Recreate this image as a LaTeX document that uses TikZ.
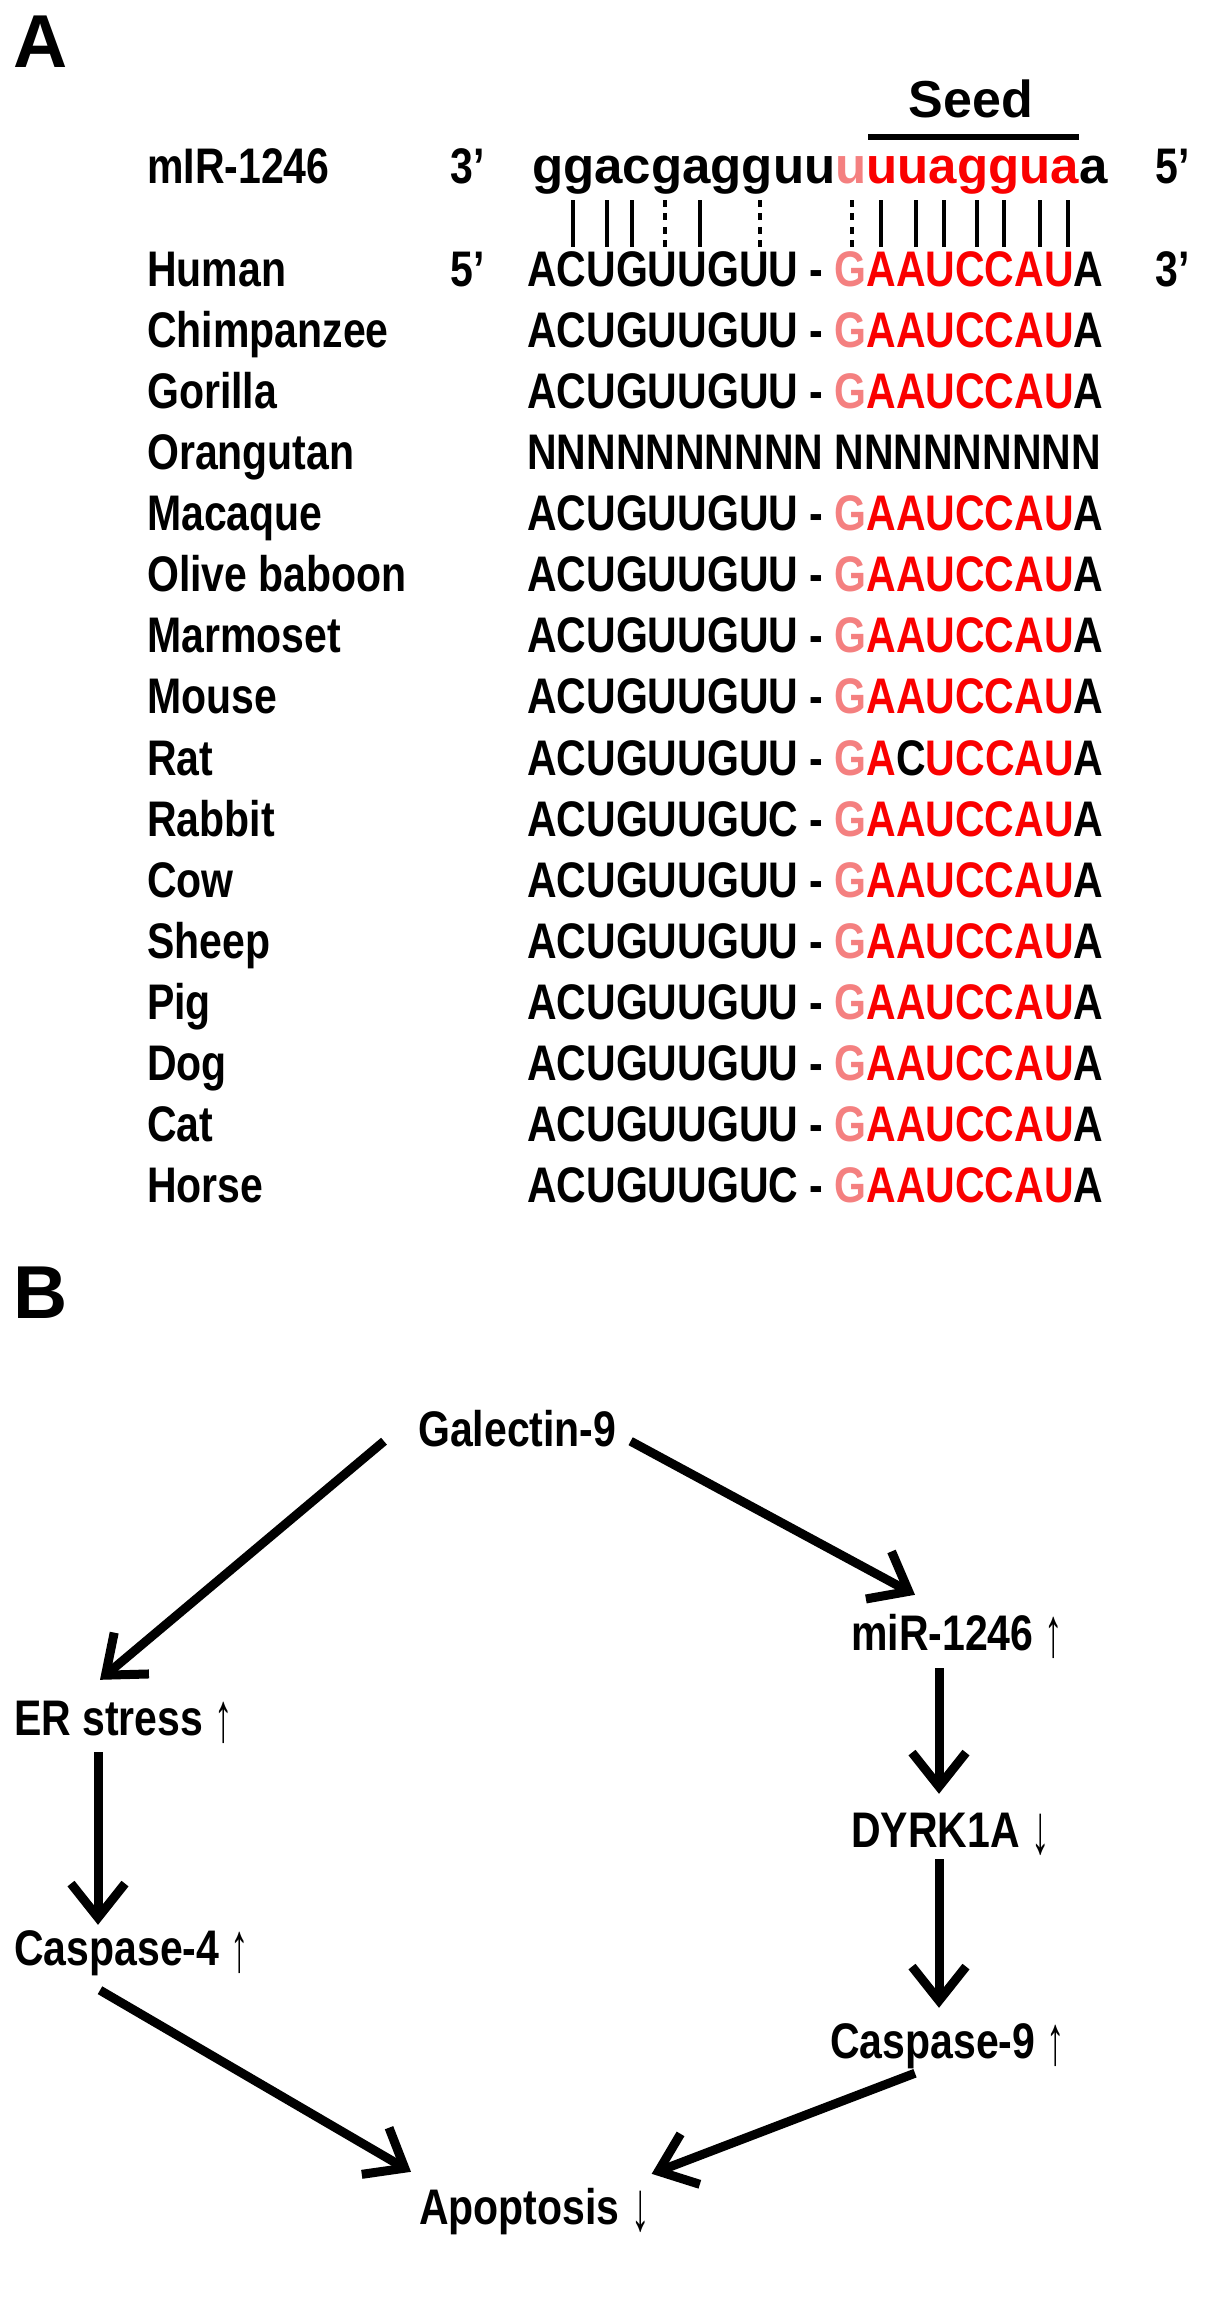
\documentclass[tikz,border=0pt]{standalone}
\usepackage{fontspec}
\usepackage{graphicx}
\usepackage{tikz}
\usetikzlibrary{arrows.meta}
\setmainfont{Liberation Sans}
\newfontfamily\narrowfont{Liberation Sans}[FakeStretch=0.82]
\definecolor{seedred}{RGB}{250,0,0}
\definecolor{seedpink}{RGB}{244,128,128}
\newcommand{\rd}[1]{\textcolor{seedred}{#1}}
\newcommand{\pk}[1]{\textcolor{seedpink}{#1}}
\tikzset{
  lbl/.style={inner sep=0pt, anchor=base west, text height=36pt, text depth=0pt,
    font=\narrowfont\bfseries\fontsize{50pt}{60pt}\selectfont},
  mirseq/.style={inner sep=0pt, anchor=base west,
    font=\bfseries\fontsize{51pt}{60pt}\selectfont},
  panel/.style={inner sep=0pt, anchor=base west,
    font=\bfseries\fontsize{75pt}{90pt}\selectfont},
  pairbar/.style={line width=4.5pt},
  wobble/.style={line width=4.5pt, dash pattern=on 7pt off 6.4pt},
  arr/.style={line width=9pt, -{Straight Barb[length=34pt, width=54pt]}},
}
\newcommand{\up}{{\mdseries\ \raisebox{-0.12em}{\scalebox{0.9}[1.4]{↑}}}}
\newcommand{\down}{{\mdseries\ \raisebox{-0.12em}{\scalebox{0.9}[1.4]{↓}}}}
\begin{document}
\begin{tikzpicture}[x=1pt, y=-1pt]
    \useasboundingbox (0,0) rectangle (1205,2308);
    % panel A
    \node[panel] (labelA) at (13,67) {A};
    \node[mirseq, anchor=base, font=\bfseries\fontsize{52pt}{60pt}\selectfont] (seed) at (971,117) {Seed};
    \draw[line width=6.5pt] (868,137) -- (1079,137);
    \node[lbl] (mir) at (147,183) {mIR-1246};
    \node[lbl] (mir3) at (450,183) {3’};
    \node[mirseq] (mirseq) at (532,183) {ggacgagguu\pk{u}\rd{uuaggua}a};
    \node[lbl] (mir5) at (1155,183) {5’};
    % base pairing
    \draw[pairbar] (573,200) -- (573,247) (607,200) -- (607,247) (632,200) -- (632,247)
      (700,200) -- (700,247) (881,200) -- (881,247) (916,200) -- (916,247)
      (944,200) -- (944,247) (977,200) -- (977,247) (1004,200) -- (1004,247)
      (1040,200) -- (1040,247) (1068,200) -- (1068,247);
    \draw[wobble] (665,200) -- (665,247) (760,200) -- (760,247) (852,200) -- (852,247);
    % species
    \node[lbl] (human) at (147,286) {Human};
    \node[lbl] (human5) at (450,286) {5’};
    \node[lbl] (humanseq) at (527,286) {ACUGUUGUU - \pk{G}\rd{AAUCCAU}A};
    \node[lbl] (human3) at (1155,286) {3’};
    \node[lbl] (chimp) at (147,347) {Chimpanzee};
    \node[lbl] (chimpseq) at (527,347) {ACUGUUGUU - \pk{G}\rd{AAUCCAU}A};
    \node[lbl] (gorilla) at (147,408) {Gorilla};
    \node[lbl] (gorillaseq) at (527,408) {ACUGUUGUU - \pk{G}\rd{AAUCCAU}A};
    \node[lbl] (orang) at (147,469) {Orangutan};
    \node[lbl] (orangseq) at (527,469) {NNNNNNNNNN NNNNNNNNN};
    \node[lbl] (macaque) at (147,530) {Macaque};
    \node[lbl] (macaqueseq) at (527,530) {ACUGUUGUU - \pk{G}\rd{AAUCCAU}A};
    \node[lbl] (baboon) at (147,591) {Olive baboon};
    \node[lbl] (baboonseq) at (527,591) {ACUGUUGUU - \pk{G}\rd{AAUCCAU}A};
    \node[lbl] (marmoset) at (147,652) {Marmoset};
    \node[lbl] (marmosetseq) at (527,652) {ACUGUUGUU - \pk{G}\rd{AAUCCAU}A};
    \node[lbl] (mouse) at (147,713) {Mouse};
    \node[lbl] (mouseseq) at (527,713) {ACUGUUGUU - \pk{G}\rd{AAUCCAU}A};
    \node[lbl] (rat) at (147,775) {Rat};
    \node[lbl] (ratseq) at (527,775) {ACUGUUGUU - \pk{G}\rd{A}C\rd{UCCAU}A};
    \node[lbl] (rabbit) at (147,836) {Rabbit};
    \node[lbl] (rabbitseq) at (527,836) {ACUGUUGUC - \pk{G}\rd{AAUCCAU}A};
    \node[lbl] (cow) at (147,897) {Cow};
    \node[lbl] (cowseq) at (527,897) {ACUGUUGUU - \pk{G}\rd{AAUCCAU}A};
    \node[lbl] (sheep) at (147,958) {Sheep};
    \node[lbl] (sheepseq) at (527,958) {ACUGUUGUU - \pk{G}\rd{AAUCCAU}A};
    \node[lbl] (pig) at (147,1019) {Pig};
    \node[lbl] (pigseq) at (527,1019) {ACUGUUGUU - \pk{G}\rd{AAUCCAU}A};
    \node[lbl] (dog) at (147,1080) {Dog};
    \node[lbl] (dogseq) at (527,1080) {ACUGUUGUU - \pk{G}\rd{AAUCCAU}A};
    \node[lbl] (cat) at (147,1141) {Cat};
    \node[lbl] (catseq) at (527,1141) {ACUGUUGUU - \pk{G}\rd{AAUCCAU}A};
    \node[lbl] (horse) at (147,1202) {Horse};
    \node[lbl] (horseseq) at (527,1202) {ACUGUUGUC - \pk{G}\rd{AAUCCAU}A};
    % panel B
    \node[panel] (labelB) at (13,1318) {B};
    \node[lbl] (gal) at (418,1446) {Galectin-9};
    \node[lbl] (mirup) at (851,1650) {miR-1246\up};
    \node[lbl] (er) at (14,1735) {ER stress\up};
    \node[lbl] (dyrk) at (851,1847) {DYRK1A\down};
    \node[lbl] (casp4) at (14,1965) {Caspase-4\up};
    \node[lbl] (casp9) at (830,2058) {Caspase-9\up};
    \node[lbl] (apop) at (419,2224) {Apoptosis\down};
    \draw[arr] ([xshift=-34pt, yshift=5pt]gal.south west) -- ([xshift=86pt, yshift=19pt]er.north west);
    \draw[arr] ([xshift=14pt, yshift=5pt]gal.south east) -- ([xshift=64pt, yshift=19pt]mirup.north west);
    \draw[arr] ([xshift=88pt, yshift=-18pt]mirup.south west) -- ([xshift=88pt, yshift=17pt]dyrk.north west);
    \draw[arr] ([xshift=88pt, yshift=-12pt]dyrk.south west) -- ([xshift=109pt, yshift=14pt]casp9.north west);
    \draw[arr] ([xshift=84pt, yshift=-17pt]er.south west) -- ([xshift=84pt, yshift=4pt]casp4.north west);
    \draw[arr] ([xshift=86pt, yshift=-25pt]casp4.south west) -- ([xshift=-8pt, yshift=16pt]apop.north west);
    \draw[arr] ([xshift=85pt, yshift=-15pt]casp9.south west) -- ([xshift=2pt, yshift=14pt]apop.north east);
\end{tikzpicture}
\end{document}
